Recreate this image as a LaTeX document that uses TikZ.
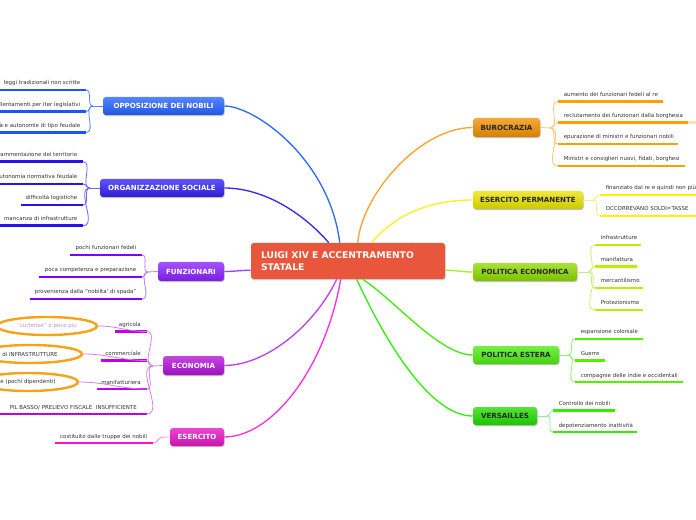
\documentclass[tikz,border=0pt]{standalone}
\usepackage{fontspec}
\setmainfont{DejaVu Sans}
\usetikzlibrary{shapes.geometric,shadows,calc}
\definecolor{cC}{HTML}{E8563C}
\definecolor{cTxt}{HTML}{333333}
\definecolor{cEll}{HTML}{F7A21B}
\definecolor{cElT}{HTML}{C88AD6}
% branch colours: base, main connector, leaf connector, underline
\definecolor{cOpp}{HTML}{2563FF}\definecolor{cOppM}{HTML}{2E6BFF}\definecolor{cOppL}{HTML}{5A85FF}\definecolor{cOppU}{HTML}{1A55FF}
\definecolor{cOrg}{HTML}{3322F2}\definecolor{cOrgM}{HTML}{3A2AF0}\definecolor{cOrgL}{HTML}{6F60FF}\definecolor{cOrgU}{HTML}{2A12EE}
\definecolor{cFun}{HTML}{8A22FF}\definecolor{cFunM}{HTML}{9A40FF}\definecolor{cFunL}{HTML}{B27AFF}\definecolor{cFunU}{HTML}{8000FF}
\definecolor{cEco}{HTML}{B312D9}\definecolor{cEcoM}{HTML}{C040F0}\definecolor{cEcoL}{HTML}{D580F0}\definecolor{cEcoU}{HTML}{C000E8}
\definecolor{cEse}{HTML}{E414C4}\definecolor{cEseM}{HTML}{FF30DD}\definecolor{cEseL}{HTML}{FF80E8}\definecolor{cEseU}{HTML}{FF10D0}
\definecolor{cBur}{HTML}{F29200}\definecolor{cBurM}{HTML}{FFA030}\definecolor{cBurL}{HTML}{FFC870}\definecolor{cBurU}{HTML}{FFA000}
\definecolor{cEsp}{HTML}{EAE400}\definecolor{cEspM}{HTML}{FFF020}\definecolor{cEspL}{HTML}{F8F070}\definecolor{cEspU}{HTML}{FFF000}
\definecolor{cPec}{HTML}{8FDB00}\definecolor{cPecM}{HTML}{A8F020}\definecolor{cPecL}{HTML}{C8F070}\definecolor{cPecU}{HTML}{B8F000}
\definecolor{cPes}{HTML}{4EEE10}\definecolor{cPesM}{HTML}{40EE10}\definecolor{cPesL}{HTML}{90F070}\definecolor{cPesU}{HTML}{55F000}
\definecolor{cVer}{HTML}{22DD00}\definecolor{cVerM}{HTML}{30EE10}\definecolor{cVerL}{HTML}{90F090}\definecolor{cVerU}{HTML}{30EE00}
\tikzset{
  cbox/.style={fill=cC, text=white, rounded corners=2pt, minimum height=36*0.75pt,
    text width=174*0.75pt, inner xsep=10*0.75pt, inner ysep=0pt, align=left,
    font=\fontsize{6.9}{9}\selectfont\bfseries,
    drop shadow={shadow xshift=0.5pt, shadow yshift=-0.8pt, opacity=0.2, fill=black}},
  box/.style 2 args={rounded corners=2.2pt, inner sep=0pt,
    minimum width=#1*0.75pt, minimum height=#2*0.75pt,
    font=\fontsize{5.3}{6}\selectfont\bfseries,
    drop shadow={shadow xshift=0.5pt, shadow yshift=-0.8pt, opacity=0.25, fill=black}},
  bfill/.style={top color=#1!78!white, bottom color=#1!88!black},
  mconn/.style={draw=#1, line width=1pt},
  lconn/.style={draw=#1, line width=0.6pt},
  uline/.style={draw=#1, line width=2.2pt},
  leaftxt/.style={inner sep=0pt, text=cTxt, font=\fontsize{4.1}{5}\selectfont},
  ell/.style={ellipse, draw=cEll, line width=1.8pt, inner sep=0pt,
    minimum height=18*0.75pt, font=\fontsize{4.1}{5}\selectfont}
}
\newcommand\lleaf[6]{%
  \coordinate (#1s) at (#3,#5);
  \coordinate (#1e) at (#4,#5);
  \draw[uline=#2] (#1s) -- (#1e);
  \node[leaftxt, anchor=base east] (#1) at ($(#1s)+(-5.5,-5)$) {#6};}
\newcommand\rleaf[6]{%
  \coordinate (#1s) at (#3,#5);
  \coordinate (#1e) at (#4,#5);
  \draw[uline=#2] (#1s) -- (#1e);
  \node[leaftxt, anchor=base west] (#1) at ($(#1s)+(5.5,-5)$) {#6};}
\begin{document}
\begin{tikzpicture}[x=0.75pt,y=-0.75pt]
\useasboundingbox (0,0) rectangle (696,520);
\clip (0,0) rectangle (696,520);
\fill[white] (0,0) rectangle (696,520);

% central and branch boxes
\node[cbox] (c) at (348,261) {LUIGI XIV E ACCENTRAMENTO\\STATALE};
\node[box={121}{18}, bfill=cOpp, text=white] (opp) at (163.5,106) {OPPOSIZIONE DEI NOBILI};
\node[box={124}{18}, bfill=cOrg, text=white] (org) at (162,188) {ORGANIZZAZIONE SOCIALE};
\node[box={66}{19}, bfill=cFun, text=white] (fun) at (191,271.5) {FUNZIONARI};
\node[box={61}{19}, bfill=cEco, text=white] (eco) at (193.5,365.5) {ECONOMIA};
\node[box={54}{18}, bfill=cEse, text=white] (ese) at (197,437) {ESERCITO};
\node[box={67}{19}, bfill=cBur, text=black!85] (bur) at (506.5,127.5) {BUROCRAZIA};
\node[box={110}{18}, bfill=cEsp, text=black!85] (esp) at (528,200) {ESERCITO PERMANENTE};
\node[box={104}{18}, bfill=cPec, text=black!85] (pec) at (525,272) {POLITICA ECONOMICA};
\node[box={86}{18}, bfill=cPes, text=black!85] (pes) at (516,355) {POLITICA ESTERA};
\node[box={64}{18}, bfill=cVer, text=black!85] (ver) at (505,416) {VERSAILLES};

% main connectors
\draw[mconn=cOppM] ($(c.north west)+(89,0)$) .. controls +(-10,-83) and +(31,0) .. (opp.east);
\draw[mconn=cOrgM] ($(c.north west)+(78,0)$) .. controls +(-24,-28) and +(41,0) .. (org.east);
\draw[mconn=cBurM] ($(c.north west)+(107,0)$) .. controls +(4,-48) and +(-53,0) .. (bur.west);
\draw[mconn=cEspM] ($(c.north west)+(121,0)$) .. controls +(23,-28) and +(-43,0) .. (esp.west);
\draw[mconn=cFunM] ($(c.south west)+(0,-9)$) to[out=180,in=0] (fun.east);
\draw[mconn=cPecM] ($(c.south east)+(0,-9)$) to[out=0,in=180] (pec.west);
\draw[mconn=cEcoM] ($(c.south west)+(86,0)$) .. controls +(-22,46) and +(42,0) .. (eco.east);
\draw[mconn=cEseM] ($(c.south west)+(90,0)$) .. controls +(-16,91) and +(47,0) .. (ese.east);
\draw[mconn=cVerM] ($(c.south west)+(106,0)$) .. controls +(28,61) and +(-43,0) .. (ver.west);
\draw[mconn=cPesM] ($(c.south west)+(112,0)$) .. controls +(32,21) and +(-33,0) .. (pes.west);

% OPPOSIZIONE DEI NOBILI
\lleaf{o1}{cOppU}{86}{-5}{90}{leggi tradizionali non scritte}
\lleaf{o2}{cOppU}{86}{-5}{111.5}{rallentamenti per iter legislativi}
\lleaf{o3}{cOppU}{86}{-5}{132.5}{libertà e autonomie di tipo feudale}
\coordinate (oppj) at (93,106);
\draw[lconn=cOppL] (opp.west) -- (oppj);
\foreach \lf in {o1,o2,o3} \draw[lconn=cOppL] (oppj) to[out=180,in=0] (\lf s);

% ORGANIZZAZIONE SOCIALE
\lleaf{g1}{cOrgU}{83}{-5}{161.7}{frammentazione del territorio}
\lleaf{g2}{cOrgU}{83}{-5}{184}{autonomia normativa feudale}
\lleaf{g3}{cOrgU}{83}{21}{205}{difficoltà logistiche}
\lleaf{g4}{cOrgU}{83}{-5}{225.7}{mancanza di infrastrutture}
\coordinate (orgj) at (90,188);
\draw[lconn=cOrgL] (org.west) -- (orgj);
\foreach \lf in {g1,g2,g3,g4} \draw[lconn=cOrgL] (orgj) to[out=180,in=0] (\lf s);

% FUNZIONARI
\lleaf{f1}{cFunU}{142}{70}{255}{pochi funzionari fedeli}
\lleaf{f2}{cFunU}{142}{39}{277}{poca competenza e preparazione}
\lleaf{f3}{cFunU}{142}{30}{299}{provenienza dalla "nobilta' di spada"}
\coordinate (funj) at (148,272);
\draw[lconn=cFunL] (fun.west) -- (funj);
\foreach \lf in {f1,f2,f3} \draw[lconn=cFunL] (funj) to[out=180,in=0] (\lf s);

% ECONOMIA
\lleaf{e1}{cEcoU}{146.5}{115}{331.5}{agricola}
\lleaf{e2}{cEcoU}{146.5}{101}{360.5}{commerciale}
\lleaf{e3}{cEcoU}{146.5}{97}{389}{manifatturiera}
\coordinate (e4s) at (146.5,414);
\coordinate (e4e) at (-5,414);
\draw[uline=cEcoU] (e4s) -- (e4e);
\node[leaftxt, anchor=base east] (e4) at ($(e4s)+(-9.5,-5)$) {PIL BASSO/ PRELIEVO FISCALE\ \ INSUFFICIENTE};
\coordinate (ecoj) at (153,366);
\draw[lconn=cEcoL] (eco.west) -- (ecoj);
\foreach \lf in {e1,e2,e3,e4} \draw[lconn=cEcoL] (ecoj) to[out=180,in=0] (\lf s);
\node[ell, minimum width=100*0.75pt, text=cElT] (el1) at (47,326) {"curtense" o poco più};
\node[ell, minimum width=104*0.75pt, text=cTxt] (el2) at (30,354) {di INFRASTRUTTURE};
\node[ell, minimum width=100*0.75pt, text=cTxt] (el3) at (28,382) {e (pochi dipendenti)};
\draw[lconn=cEcoL] (e1s) to[out=180,in=0] (el1.east);
\draw[lconn=cEcoL] (e2s) to[out=180,in=0] (el2.east);
\draw[lconn=cEcoL] (e3s) to[out=180,in=0] (el3.east);

% ESERCITO
\lleaf{s1}{cEseU}{153}{55}{443}{costituito dalle truppe dei nobili}
\coordinate (esej) at (163,437);
\draw[lconn=cEseL] (ese.west) -- (esej) to[out=180,in=0] (s1s);

% BUROCRAZIA
\rleaf{b1}{cBurU}{558}{663}{101.5}{aumento dei funzionari fedeli al re}
\rleaf{b2}{cBurU}{558}{688}{122.5}{reclutamento dei funzionari dalla borghesia}
\draw[uline=cBurU!30!white] (b2e) -- ++(10,0);
\rleaf{b3}{cBurU}{558}{678}{144}{epurazione di ministri e funzionari nobili}
\rleaf{b4}{cBurU}{558}{685}{166}{Ministri e consiglieri nuovi, fidati, borghesi}
\coordinate (burj) at (550,128);
\draw[lconn=cBurL] (bur.east) -- (burj);
\foreach \lf in {b1,b2,b3,b4} \draw[lconn=cBurL] (burj) to[out=0,in=180] (\lf s);

% ESERCITO PERMANENTE
\rleaf{p1}{cEspU}{600}{700}{195}{finanziato dal re e quindi non più}
\rleaf{p2}{cEspU}{600}{700}{216}{OCCORREVANO SOLDI=TASSE}
\coordinate (espj) at (593,200);
\draw[lconn=cEspL] (esp.east) -- (espj);
\foreach \lf in {p1,p2} \draw[lconn=cEspL] (espj) to[out=0,in=180] (\lf s);

% POLITICA ECONOMICA
\rleaf{q1}{cPecU}{595}{641}{245}{infrastrutture}
\rleaf{q2}{cPecU}{595}{637}{266.5}{manifattura}
\rleaf{q3}{cPecU}{595}{643}{288}{mercantilismo}
\rleaf{q4}{cPecU}{595}{643}{310}{Protezionismo}
\coordinate (pecj) at (588,272);
\draw[lconn=cPecL] (pec.east) -- (pecj);
\foreach \lf in {q1,q2,q3,q4} \draw[lconn=cPecL] (pecj) to[out=0,in=180] (\lf s);

% POLITICA ESTERA
\rleaf{r1}{cPesU}{575}{643}{339}{espansione coloniale}
\rleaf{r2}{cPesU}{575}{605}{360.5}{Guerre}
\rleaf{r3}{cPesU}{575}{683}{382}{compagnie delle indie e occidentali}
\coordinate (pesj) at (568,355);
\draw[lconn=cPesL] (pes.east) -- (pesj);
\foreach \lf in {r1,r2,r3} \draw[lconn=cPesL] (pesj) to[out=0,in=180] (\lf s);

% VERSAILLES
\rleaf{v1}{cVerU}{553}{615}{410.5}{Controllo dei nobili}
\rleaf{v2}{cVerU}{553}{637}{432}{depotenziamento inattività}
\coordinate (verj) at (547,416);
\draw[lconn=cVerL] (ver.east) -- (verj);
\foreach \lf in {v1,v2} \draw[lconn=cVerL] (verj) to[out=0,in=180] (\lf s);
\end{tikzpicture}
\end{document}
